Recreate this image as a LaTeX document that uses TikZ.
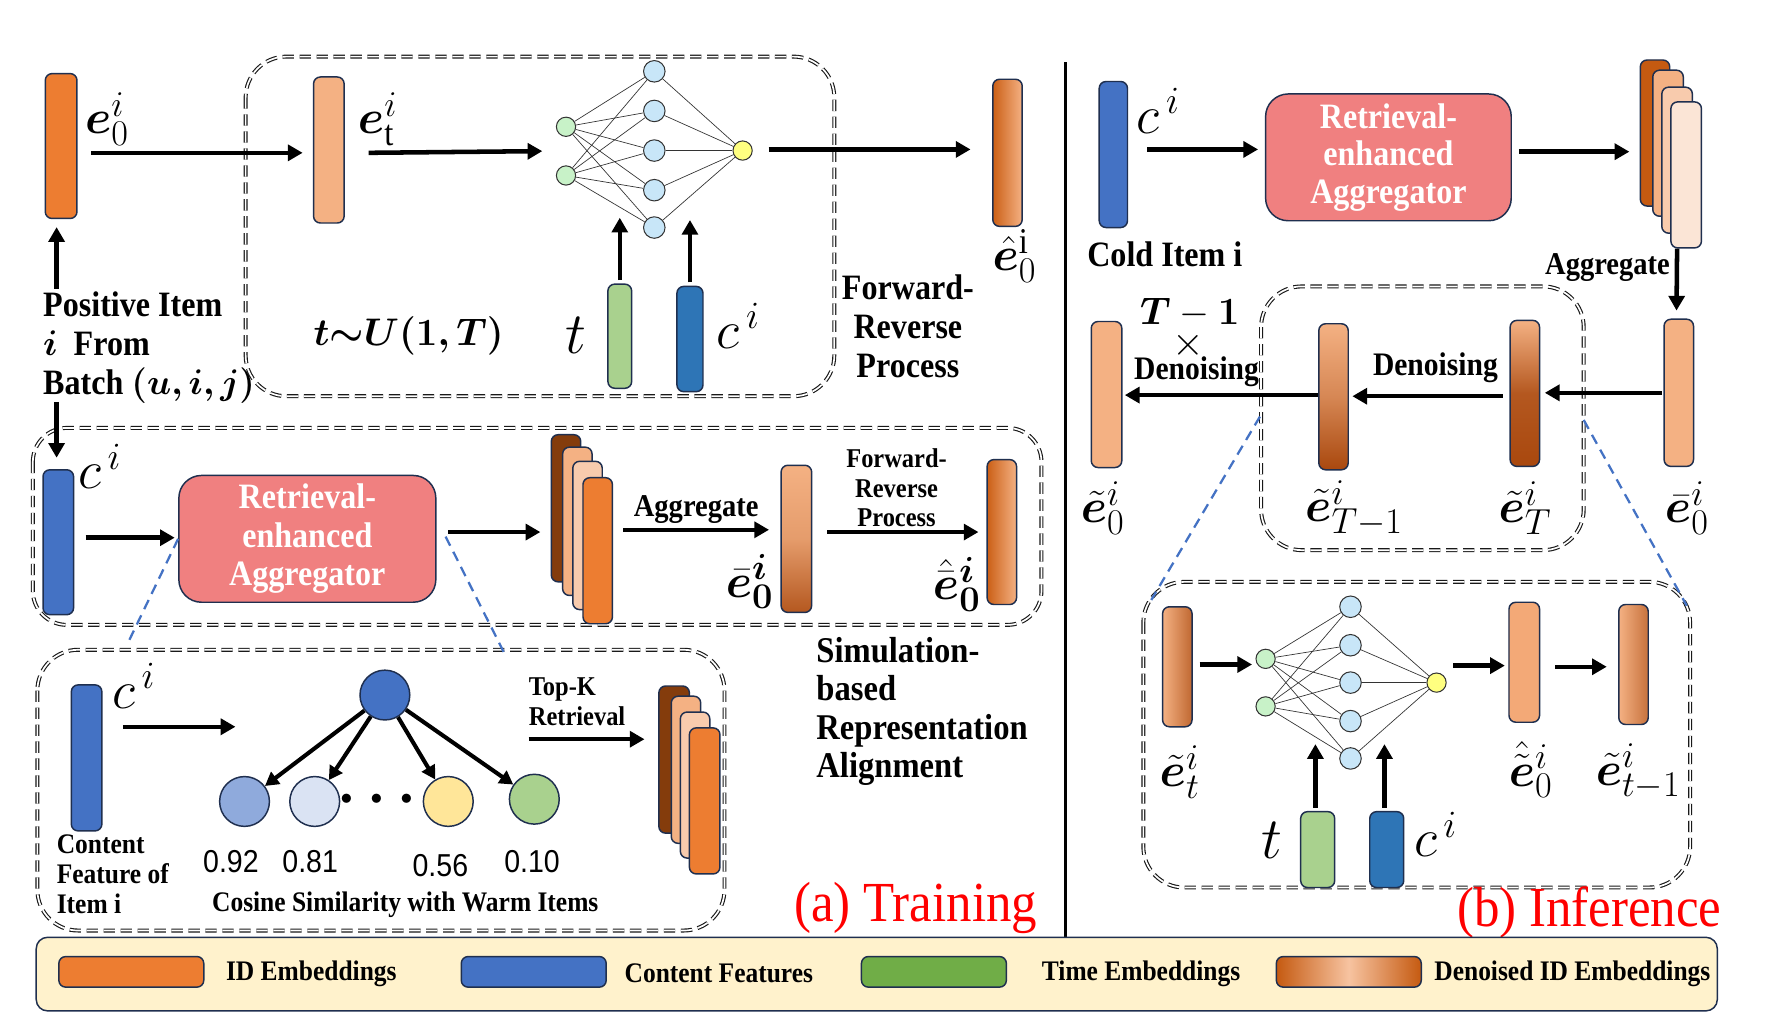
\RequirePackage{fix-cm}
\documentclass[tikz,border=0pt]{standalone}
\usepackage{amsmath}
\usepackage{bm}
\usepackage{fontspec}
\setmainfont[FakeStretch=0.9]{Liberation Serif}
\newfontfamily\numfont[FakeStretch=0.9]{Liberation Sans}
\usetikzlibrary{arrows.meta,calc}
\DeclareMathSizes{42}{42}{32}{24}
\DeclareMathSizes{48}{48}{34}{26}
\DeclareMathSizes{52}{52}{36}{28}
\definecolor{idor}{HTML}{ED7D31}
\definecolor{lor}{HTML}{F4B183}
\definecolor{llor}{HTML}{F8CBAD}
\definecolor{lllor}{HTML}{FBE5D6}
\definecolor{dbrown}{HTML}{843C0C}
\definecolor{dor}{HTML}{C55A11}
\definecolor{brn}{HTML}{A9480E}
\definecolor{cblue}{HTML}{4472C4}
\definecolor{cblue2}{HTML}{2E75B6}
\definecolor{tgreen}{HTML}{A9D18E}
\definecolor{lgreen}{HTML}{70AD47}
\definecolor{navy}{HTML}{1F2F4F}
\definecolor{coral}{HTML}{F08080}
\definecolor{legfill}{HTML}{FFF2CC}
\definecolor{nngreen}{HTML}{C8F2C8}
\definecolor{nnblue}{HTML}{C8E6F8}
\definecolor{nnyellow}{HTML}{FFFF80}
\definecolor{leafa}{HTML}{8FAADC}
\definecolor{leafb}{HTML}{DAE3F3}
\definecolor{leafc}{HTML}{FFE699}
\newcommand{\fsz}[2]{\fontsize{#1}{#2}\selectfont}
\begin{document}
\begin{tikzpicture}[x=1pt,y=-1pt,
 bar/.style={draw=navy, line width=1.3pt, rounded corners=6pt, inner sep=0pt},
 arr/.style={line width=4pt, -{Triangle[length=13pt,width=14pt]}},
 sarr/.style={line width=3.6pt, -{Triangle[length=12pt,width=13pt]}},
 dbox/.style={draw=black!90, line width=1pt, double=white, double distance=1.5pt, dash pattern=on 10pt off 5pt, rounded corners=36pt},
 bdash/.style={draw=cblue, line width=2pt, dash pattern=on 9pt off 6pt},
 retr/.style={draw=navy, line width=1.3pt, fill=coral, rounded corners=20pt, text=white, font=\bfseries\fsz{31.5}{34}, align=center, inner sep=0pt},
 lab/.style={font=\bfseries\fsz{31.5}{34.5}, inner sep=0pt},
 slab/.style={font=\bfseries\fsz{24}{26}, inner sep=0pt},
 mlab/.style={font=\fsz{42}{46}, inner sep=0pt},
 clab/.style={font=\fsz{48}{52}, inner sep=0pt},
 nin/.style={circle, draw=black!80, line width=0.9pt, fill=nngreen, minimum size=17pt, inner sep=0pt},
 nhid/.style={circle, draw=black!80, line width=0.9pt, fill=nnblue, minimum size=19pt, inner sep=0pt},
 nout/.style={circle, draw=black!80, line width=0.9pt, fill=nnyellow, minimum size=17pt, inner sep=0pt},
 nnline/.style={line width=0.6pt, draw=black!80},
 leaf/.style={circle, draw=navy, line width=1.3pt, minimum size=44pt, inner sep=0pt},
 sw/.style={draw=navy, line width=1.3pt, rounded corners=6pt, minimum width=128pt, minimum height=27pt, inner sep=0pt},
 legt/.style={font=\bfseries\fsz{25}{28}, inner sep=0pt},
 red/.style={text=red, font=\fsz{50}{54}, inner sep=0pt}
]
\useasboundingbox (0,0) rectangle (1568,905);
\fill[white] (0,0) rectangle (1568,905);

% ---------- dashed frames ----------
\draw[dbox] (217,50) rectangle (737,350);
\draw[dbox, rounded corners=30pt] (29,378) rectangle (920,552);
\draw[dbox] (33,574) rectangle (640,822);
\draw[dbox] (1114,253) rectangle (1399,486);
\draw[dbox] (1010,514) rectangle (1493,784);

% divider
\draw[line width=2.6pt] (941,55) -- (941,828);

% ================= (a) Training: top row =================
\node[bar, fill=idor, minimum width=28pt, minimum height=128pt] (e0) at (54,129) {};
\node[mlab, anchor=west] (e0l) at (75,105) {$\bm{e}_0^{i}$};
\node[bar, fill=lor, minimum width=27pt, minimum height=129pt] (et) at (290.5,132.5) {};
\node[mlab, anchor=west] (etl) at (316,105) {$\bm{e}_{\mathrm{t}}^{i}$};

\foreach \k/\yy in {1/112,2/155} \node[nin] (ta\k) at (500,\yy) {};
\foreach \k/\yy in {1/63,2/98,3/133,4/168,5/201} \node[nhid] (th\k) at (578,\yy) {};
\node[nout] (to) at (656,133) {};
\foreach \a in {1,2} \foreach \b in {1,...,5} \draw[nnline] (ta\a) -- (th\b);
\foreach \b in {1,...,5} \draw[nnline] (th\b) -- (to);

\node[bar, fill=tgreen, minimum width=21pt, minimum height=92pt] (tb) at (547.5,297) {};
\node[bar, fill=cblue2, minimum width=23pt, minimum height=93pt] (cb) at (609.5,299.5) {};
\node[font=\fsz{52}{56}, inner sep=0pt] (tl) at (509,296) {$t$};
\node[clab] (cl) at (652,288) {$c^{\,i}$};
\node[font=\fsz{34}{38}, inner sep=0pt] (tu) at (361,297) {$\bm{t{\sim}U(1,T)}$};

\node[bar, left color=dor!85!idor, right color=lor, minimum width=26pt, minimum height=130pt] (eh) at (890,135) {};
\node[mlab] (ehl) at (896,226) {$\hat{\bm{e}}_0^{\mathrm{i}}$};
\node[lab, align=center] (frp) at (802,288) {Forward-\\Reverse\\Process};

\node[lab, align=left, anchor=west] (pos) at (38,307) {Positive Item\\$\bm{i}$\ \ From\\Batch $\bm{(u,i,j)}$};

\draw[arr] ($(e0.east)+(12,6)$) -- ($(et.west)+(-9,2.5)$);
\draw[arr] ($(et.east)+(21,2.5)$) -- ($(ta1.west)!0.5!(ta2.west)+(-12,0)$);
\draw[arr] ($(to.east)+(14,-1)$) -- ($(eh.west)+(-19,-3)$);
\draw[arr] ($(tb.north)+(0,-3)$) -- ($(tb.north)+(0,-58)$);
\draw[arr] ($(cb.north)+(0,-3)$) -- ($(cb.north)+(0,-58)$);
\coordinate (posA) at (50,255);
\draw[arr] (posA) -- ($(e0.south)+(-4,7)$);

% ================= (a) middle row =================
\node[bar, fill=cblue, minimum width=27pt, minimum height=128pt] (mc) at (51.5,479) {};
\node[clab] (mcl) at (88,412) {$c^{\,i}$};
\node[retr, minimum width=227pt, minimum height=112pt] (mret) at (271.5,476) {Retrieval-\\enhanced\\Aggregator};
\node[bar, fill=dbrown, minimum width=26pt, minimum height=130pt] (ms1) at (500,449) {};
\node[bar, fill=lor, minimum width=26pt, minimum height=131pt] (ms2) at (510,460.5) {};
\node[bar, fill=llor, minimum width=26pt, minimum height=131pt] (ms3) at (519,473) {};
\node[bar, fill=idor, minimum width=26pt, minimum height=129pt] (ms4) at (528,486.5) {};
\node[font=\bfseries\fsz{28}{30}, inner sep=0pt] (magg) at (615,450) {Aggregate};
\node[bar, top color=lor, bottom color=brn!85!lor, middle color=lor!80!brn, minimum width=27pt, minimum height=130pt] (meb) at (703.5,476) {};
\node[mlab] (mebl) at (662,514) {$\bar{\bm{e}}_{\bm{0}}^{\bm{i}}$};
\node[slab, align=center] (mfrp) at (792,431) {Forward-\\Reverse\\Process};
\node[bar, left color=dor!85!idor, right color=lor, minimum width=26pt, minimum height=128pt] (meh) at (885,470) {};
\node[mlab] (mehl) at (845,516) {$\hat{\bar{\bm{e}}}_{\bm{0}}^{\bm{i}}$};

\coordinate (posB) at (50,355);
\draw[arr] (posB) -- ($(mc.north)+(-1.5,-10)$);
\draw[arr] ($(mc.east)+(10,-4)$) -- ($(mret.west)+(-3,-1)$);
\draw[arr] ($(mret.east)+(10,-6)$) -- ($(ms1.west)+(-9,21)$);
\draw[arr] ($(ms4.east)+(9,-18.5)$) -- ($(meb.west)+(-10,-8)$);
\draw[arr] ($(meb.east)+(13,-6)$) -- ($(meh.west)+(-7,0)$);

% ================= (a) bottom box =================
\coordinate (bl1) at (112,570);
\coordinate (bl2) at (445,576);
\draw[bdash] (mret.west) -- (bl1);
\draw[bdash] ($(mret.east)+(8,-2)$) -- (bl2);

\node[bar, fill=cblue, minimum width=27pt, minimum height=129pt] (bc) at (76.5,669.5) {};
\node[clab] (bcl) at (118,606) {$c^{\,i}$};
\coordinate (bcend) at (208,642);
\draw[arr] ($(bc.east)+(18,-27.5)$) -- (bcend);
\node[leaf, fill=cblue] (tn) at (340,614) {};
\node[leaf, fill=leafa] (l1) at (216,708) {};
\node[leaf, fill=leafb] (l2) at (278,708) {};
\node[leaf, fill=leafc] (l3) at (396,708) {};
\node[leaf, fill=tgreen] (l4) at (472,706) {};
\foreach \l in {l1,l2,l3,l4} \draw[sarr] (tn) -- (\l);
\node[font=\fsz{52}{52}, inner sep=0pt] (dots) at (338,706) {$\bm{\cdots}$};
\node[font=\numfont\fsz{28}{30}, inner sep=0pt] (v1) at (204,761) {0.92};
\node[font=\numfont\fsz{28}{30}, inner sep=0pt] (v2) at (274,761) {0.81};
\node[font=\numfont\fsz{28}{30}, inner sep=0pt] (v3) at (389,765) {0.56};
\node[font=\numfont\fsz{28}{30}, inner sep=0pt] (v4) at (470,761) {0.10};
\node[font=\bfseries\fsz{25}{26.5}, align=left, anchor=west, inner sep=0pt] (cfi) at (50,772) {Content\\Feature of\\Item i};
\node[font=\bfseries\fsz{25}{26}, inner sep=0pt] (cos) at (358,799) {Cosine Similarity with Warm Items};
\node[slab, align=left, anchor=west] (topk) at (467,620) {Top-K\\Retrieval};
\coordinate (tkA) at (467,653);
\node[bar, fill=dbrown, minimum width=27pt, minimum height=130pt] (bs1) at (595.5,671) {};
\node[bar, fill=lor, minimum width=26pt, minimum height=130pt] (bs2) at (606,680) {};
\node[bar, fill=llor, minimum width=26pt, minimum height=129pt] (bs3) at (614,693.5) {};
\node[bar, fill=idor, minimum width=27pt, minimum height=129pt] (bs4) at (622.5,707.5) {};
\draw[arr] (tkA) -- ($(bs1.west)+(-12,-18)$);

\node[font=\bfseries\fsz{32}{33.7}, align=left, anchor=west, inner sep=0pt] (sim) at (721,628.5) {Simulation-\\based\\Representation\\Alignment};
\node[red] (atr) at (809,802) {(a) Training};

% ================= (b) Inference =================
\node[bar, fill=cblue, minimum width=25pt, minimum height=129pt] (rc) at (983.5,136.5) {};
\node[clab] (rcl) at (1023,98) {$c^{\,i}$};
\node[lab] (cold) at (1029,225) {Cold Item i};
\node[retr, minimum width=217pt, minimum height=112pt, font=\bfseries\fsz{31.5}{33}] (rret) at (1226.5,139) {Retrieval-\\enhanced\\Aggregator};
\node[bar, fill=dor, minimum width=26pt, minimum height=129pt] (rs1) at (1462,117.5) {};
\node[bar, fill=lor, minimum width=27pt, minimum height=129pt] (rs2) at (1473.5,126.5) {};
\node[bar, fill=llor, minimum width=27pt, minimum height=129pt] (rs3) at (1481.5,141.5) {};
\node[bar, fill=lllor, minimum width=27pt, minimum height=129pt] (rs4) at (1489.5,154.5) {};
\node[font=\bfseries\fsz{28}{30}, inner sep=0pt] (ragg) at (1420,236) {Aggregate};

\node[bar, fill=lor, minimum width=26pt, minimum height=130pt] (reb) at (1483,347) {};
\node[mlab] (rebl) at (1490,449) {$\bar{\bm{e}}_0^{i}$};
\node[bar, top color=lor, bottom color=brn, middle color=brn!85!lor, minimum width=26pt, minimum height=129pt] (reT) at (1347,347.5) {};
\node[mlab] (reTl) at (1347,449) {$\tilde{\bm{e}}_T^{i}$};
\node[bar, top color=lor, bottom color=brn, middle color=lor!60!brn, minimum width=26pt, minimum height=129pt] (reT1) at (1178,350.5) {};
\node[mlab] (reT1l) at (1196,449) {$\tilde{\bm{e}}_{T-1}^{i}$};
\node[bar, fill=lor, minimum width=27pt, minimum height=129pt] (re0) at (977.5,348.5) {};
\node[mlab] (re0l) at (974,449) {$\tilde{\bm{e}}_0^{i}$};
\node[font=\bfseries\fsz{29}{30}, inner sep=0pt] (den1) at (1268,325) {Denoising};
\node[font=\fsz{34}{36}, inner sep=0pt] (tm1) at (1051,276) {$\bm{T}-\bm{1}$};
\node[font=\fsz{36}{36}, inner sep=0pt] (times) at (1050,305) {$\times$};
\node[font=\bfseries\fsz{29}{30}, inner sep=0pt] (den2) at (1057,328) {Denoising};

\draw[arr] ($(rc.east)+(17,-4.5)$) -- ($(rret.west)+(-6,-7)$);
\draw[arr] ($(rret.east)+(6,-5)$) -- ($(rs1.west)+(-9,16.5)$);
\draw[arr] ($(rs4.south)+(-8,0)$) -- ($(reb.north)+(-2,-7)$);
\draw[arr] ($(reb.west)+(-1,0)$) -- ($(reT.east)+(4,-0.5)$);
\draw[arr] ($(reT.west)+(-6,2.5)$) -- ($(reT1.east)+(3,-0.5)$);
\draw[arr] ($(reT1.west)+(0,-1.5)$) -- ($(re0.east)+(2,0.5)$);

\coordinate (r5a) at (1113,368);
\coordinate (r5b) at (1017,530);
\coordinate (r5c) at (1399,371);
\coordinate (r5d) at (1490,535);
\draw[bdash] (r5a) -- (r5b);
\draw[bdash] (r5c) -- (r5d);

% box 5
\node[bar, left color=lor, right color=brn!70!lor, minimum width=26pt, minimum height=106pt] (b5et) at (1040,589) {};
\node[mlab] (b5etl) at (1042,682) {$\tilde{\bm{e}}_t^{i}$};
\foreach \k/\yy in {1/582,2/624} \node[nin] (ba\k) at (1118,\yy) {};
\foreach \k/\yy in {1/536,2/570,3/603,4/637,5/670} \node[nhid] (bh\k) at (1193,\yy) {};
\node[nout] (bo) at (1269,603) {};
\foreach \a in {1,2} \foreach \b in {1,...,5} \draw[nnline] (ba\a) -- (bh\b);
\foreach \b in {1,...,5} \draw[nnline] (bh\b) -- (bo);
\node[bar, fill=tgreen, minimum width=30pt, minimum height=67pt] (b5tb) at (1164,750.5) {};
\node[bar, fill=cblue2, minimum width=30pt, minimum height=67pt] (b5cb) at (1225,750.5) {};
\node[font=\fsz{52}{56}, inner sep=0pt] (b5tl) at (1124,742) {$t$};
\node[clab] (b5cl) at (1268,737) {$c^{\,i}$};
\node[bar, fill=lor!85!idor, minimum width=27pt, minimum height=106pt] (b5eh) at (1346.5,585) {};
\node[mlab] (b5ehl) at (1352,680) {$\hat{\tilde{\bm{e}}}_0^{i}$};
\node[bar, left color=lor, right color=brn!60!lor, minimum width=26pt, minimum height=106pt] (b5et1) at (1443,587) {};
\node[mlab] (b5et1l) at (1447,682) {$\tilde{\bm{e}}_{t-1}^{i}$};

\draw[arr] ($(b5et.east)+(6,-2)$) -- ($(ba1.west)+(-3,5)$);
\draw[arr] ($(b5tb.north)+(-2,-3)$) -- ($(b5tb.north)+(-2,-59)$);
\draw[arr] ($(b5cb.north)+(-2,-3)$) -- ($(b5cb.north)+(-2,-59)$);
\draw[arr] ($(bo.east)+(6,-15)$) -- ($(b5eh.west)+(-3,3)$);
\draw[arr] ($(b5eh.east)+(13,4)$) -- ($(b5et1.west)+(-10,2)$);

\node[red] (binf) at (1404,806) {(b) Inference};

% ================= legend =================
\node[draw=navy, line width=1.3pt, fill=legfill, rounded corners=10pt, minimum width=1485pt, minimum height=65pt, inner sep=0pt] (leg) at (774.5,860.5) {};
\node[sw, fill=idor] (sw1) at (116,858.5) {};
\node[legt] (lt1) at (275,860) {ID Embeddings};
\node[sw, fill=cblue] (sw2) at (471.5,858.5) {};
\node[legt] (lt2) at (635,860) {Content Features};
\node[sw, fill=lgreen] (sw3) at (825,858.5) {};
\node[legt] (lt3) at (1008,860) {Time Embeddings};
\node[sw, left color=dor, right color=dor, middle color=llor!70!lor] (sw4) at (1191.5,858.5) {};
\node[legt] (lt4) at (1389,860) {Denoised ID Embeddings};
\end{tikzpicture}
\end{document}
